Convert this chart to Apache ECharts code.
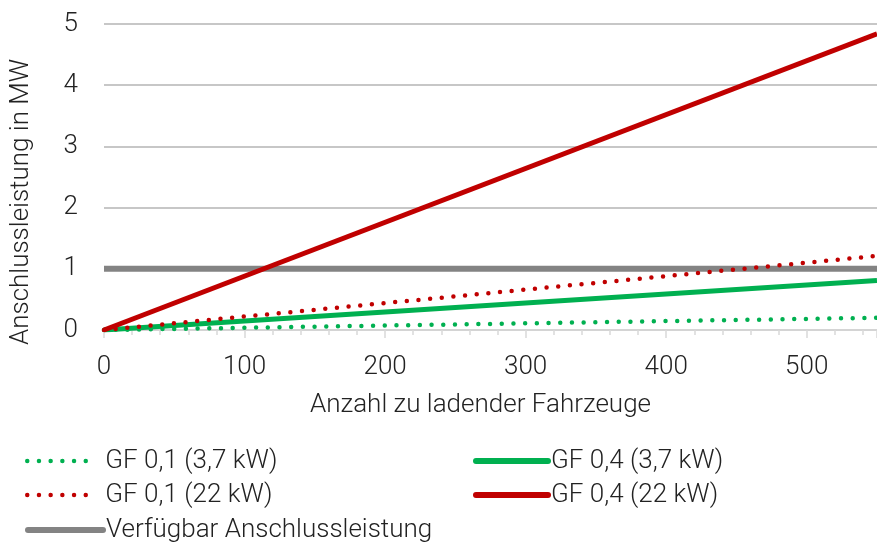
<!DOCTYPE html>
<html><head><meta charset="utf-8">
<script src="https://cdn.jsdelivr.net/npm/echarts@6/dist/echarts.min.js"></script>
<style>html,body{margin:0;padding:0;background:#fff}#c{width:877px;height:547px}</style>
</head><body><div id="c"></div>
<script>
const xValues = [0, 550];
const gf01_37 = [0, 0.20];
const gf04_37 = [0, 0.81];
const gf01_22 = [0, 1.21];
const gf04_22 = [0, 4.84];
const available = [1, 1];
const seriesNames = ['GF 0,1 (3,7 kW)', 'GF 0,4 (3,7 kW)', 'GF 0,1 (22 kW)', 'GF 0,4 (22 kW)', 'Verfügbar Anschlussleistung'];

const font = 'Roboto';
const pairs = arr => xValues.map((x, i) => [x, arr[i]]);
const txt = {fontFamily: font, fontWeight: 300, fontSize: 26, color: '#222'};
const GREEN = '#00b050', RED = '#c00000', GREY = '#838383';

function mkLegend(name, left, top, w, gap, ls) {
  return {data: [name], left: left, top: top, itemWidth: w, itemHeight: 12, itemGap: 0,
    textStyle: Object.assign({}, txt, {padding: [0, 0, 0, gap]}), padding: 0,
    itemStyle: {opacity: 0}, lineStyle: ls};
}
const dotted = c => ({color: c, width: 4.5, type: [0, 11.7], cap: 'round'});
const solid = c => ({color: c, width: 6, type: 'solid', cap: 'round'});

const chart = echarts.init(document.getElementById('c'), null, {renderer: 'canvas'});
chart.setOption({
  animation: false,
  backgroundColor: '#fff',
  grid: {left: 94, right: 0, top: 24, bottom: 217, containLabel: false},
  xAxis: {
    type: 'value', min: 0, max: 550, interval: 100,
    name: 'Anzahl zu ladender Fahrzeuge', nameLocation: 'middle', nameGap: 62,
    nameTextStyle: Object.assign({}, txt, {padding: [0, 20, 0, 0]}),
    axisLine: {show: true, lineStyle: {color: '#d9d9d9', width: 1.5}},
    axisTick: {show: true, length: 8, lineStyle: {color: '#d9d9d9', width: 1.5}},
    minorTick: {show: true, splitNumber: 5, length: 5, lineStyle: {color: '#d9d9d9', width: 1.5}},
    axisLabel: Object.assign({}, txt, {margin: 24, showMaxLabel: false}),
    splitLine: {show: false}
  },
  yAxis: {
    type: 'value', min: 0, max: 5, interval: 1,
    name: 'Anschlussleistung in MW', nameLocation: 'middle', nameGap: 70, nameRotate: 90,
    nameTextStyle: Object.assign({}, txt, {padding: [0, 50, 0, 0]}),
    axisLine: {show: false}, axisTick: {show: false},
    axisLabel: Object.assign({}, txt, {margin: 26}),
    splitLine: {lineStyle: {color: '#b4b4b4', width: 1.5}}
  },
  legend: [
    mkLegend(seriesNames[0], 25, 448, 68, 5, dotted(GREEN)),
    mkLegend(seriesNames[2], 25, 482, 68, 5, dotted(RED)),
    mkLegend(seriesNames[4], 25, 517, 75, -2, solid(GREY)),
    mkLegend(seriesNames[1], 473, 448, 72, -2, solid(GREEN)),
    mkLegend(seriesNames[3], 473, 482, 72, -2, solid(RED))
  ],
  series: [
    {name: seriesNames[4], type: 'line', data: pairs(available), showSymbol: false, symbol: 'none', z: 1,
      lineStyle: {color: GREY, width: 6}, itemStyle: {color: GREY}},
    {name: seriesNames[0], type: 'line', data: pairs(gf01_37), showSymbol: false, symbol: 'none', z: 3,
      lineStyle: dotted(GREEN), itemStyle: {color: GREEN}},
    {name: seriesNames[1], type: 'line', data: pairs(gf04_37), showSymbol: false, symbol: 'none', z: 3,
      lineStyle: {color: GREEN, width: 5}, itemStyle: {color: GREEN}},
    {name: seriesNames[2], type: 'line', data: pairs(gf01_22), showSymbol: false, symbol: 'none', z: 4,
      lineStyle: dotted(RED), itemStyle: {color: RED}},
    {name: seriesNames[3], type: 'line', data: pairs(gf04_22), showSymbol: false, symbol: 'none', z: 5,
      lineStyle: {color: RED, width: 5}, itemStyle: {color: RED}}
  ]
});
</script></body></html>
